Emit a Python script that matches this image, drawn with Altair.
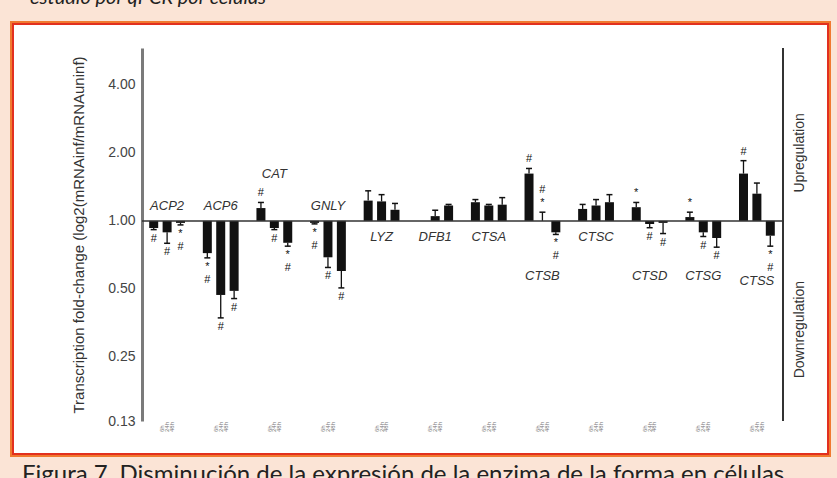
import altair as alt
import pandas as pd

# ---------------- data ----------------
genes = ["ACP2", "ACP6", "CAT", "GNLY", "LYZ", "DFB1", "CTSA", "CTSB", "CTSC", "CTSD", "CTSG", "CTSS"]
times = ["6h", "24h", "48h"]

fc_6h = [0.93, 0.72, 1.14, 0.98, 1.23, 1.00, 1.21, 1.62, 1.13, 1.15, 1.04, 1.62]
fc_24h = [0.89, 0.47, 0.93, 0.69, 1.22, 1.05, 1.17, 1.00, 1.17, 0.97, 0.89, 1.32]
fc_48h = [0.98, 0.49, 0.80, 0.60, 1.12, 1.17, 1.18, 0.89, 1.21, 0.98, 0.84, 0.86]

err_6h = [0.915, 0.686, 1.207, 0.97, 1.359, 1.00, 1.243, 1.707, 1.183, 1.207, 1.093, 1.848]
err_24h = [0.796, 0.372, 0.915, 0.622, 1.307, 1.115, 1.183, 1.093, 1.243, 0.933, 0.853, 1.471]
err_48h = [0.96, 0.453, 0.773, 0.505, 1.195, 1.183, 1.268, 0.871, 1.307, 0.879, 0.765, 0.773]

sig_6h = ["#", "*#", "#", "*#", "", "", "", "#", "", "*", "*", "#"]
sig_24h = ["#", "#", "#", "#", "", "", "", "*#", "", "#", "#", ""]
sig_48h = ["*#", "#", "*#", "#", "", "", "", "*#", "", "#", "#", "*#"]

# fold-change level at which each gene name is written
gene_label_level = [1.16, 1.16, 1.61, 1.16, 0.845, 0.845, 0.845, 0.57, 0.85, 0.57, 0.57, 0.54]

y_ticks = [0.13, 0.25, 0.5, 1, 2, 4]
y_title = "Transcription fold-change (log2(mRNAinf/mRNAuninf)"
top_caption = "estudio por qPCR por células"
bottom_caption = "Figura 7. Disminución de la expresión de la enzima de la forma en células"

# ---------------- tables ----------------
fcs = [fc_6h, fc_24h, fc_48h]
errs = [err_6h, err_24h, err_48h]
sigs = [sig_6h, sig_24h, sig_48h]
rows, ann = [], []
for g, gene in enumerate(genes):
    for t, tm in enumerate(times):
        v, e, s = fcs[t][g], errs[t][g], sigs[t][g]
        pos = g * 4 + t + 0.5
        rows.append(dict(gene=gene, time=tm, gi=g, ti=t, pos=pos, value=v, err=e))
        for k, ch in enumerate(s):
            ann.append(dict(pos=pos, err=e, ch=ch, k=k, up=v >= 1))
df = pd.DataFrame(rows)
adf = pd.DataFrame(ann)
gdf = pd.DataFrame(dict(gene=genes, gi=list(range(len(genes))), level=gene_label_level))
one = pd.DataFrame({"k": [0]})

W, H = 640, 373
PL, PT = 142, 48
PR, PB = 837 - PL - W, 478 - PT - H

FONT = "Liberation Sans"
xscale = alt.Scale(domain=[0, 47], nice=False, zero=False)
yscale = alt.Scale(type="log", domain=[0.13, 5.83], nice=False)
yaxis = alt.Axis(values=y_ticks, format=".2f", grid=False, ticks=False,
                 domainColor="#7a7a7a", domainWidth=3, labelFontSize=14,
                 labelColor="#444444", labelFont=FONT, labelPadding=7,
                 labelOverlap=False, title=y_title, titleFontSize=15,
                 titleFontWeight="normal", titleColor="#333333", titleFont=FONT,
                 titlePadding=21)


def X(f):
    return alt.X(f, type="quantitative", scale=xscale, axis=None)


def Y(f):
    return alt.Y(f, type="quantitative", scale=yscale, axis=yaxis)


def px_x(a):
    return alt.value(a - PL)


def px_y(a):
    return alt.value(a - PT)


base = alt.Chart(df)

bars = base.mark_bar(size=9, color="#111111").encode(x=X("pos"), y=Y("value"), y2=alt.datum(1))
stems = base.mark_rule(color="#111111", strokeWidth=1.3).encode(x=X("pos"), y=Y("value"), y2="err")
caps = base.transform_filter("datum.err != datum.value").mark_point(
    shape="M-1,0L1,0", size=36, filled=False, color="#111111", strokeWidth=1.5, opacity=1
).encode(x=X("pos"), y=Y("err"))

baseline = alt.Chart(one).mark_rule(color="#333333", strokeWidth=1.5).encode(y=alt.datum(1))
right_line = alt.Chart(one).mark_rule(color="#333333", strokeWidth=2).encode(
    x=alt.value(W + 1), y=alt.value(0), y2=alt.value(H))

ann_layers = []
for up in (True, False):
    for k in (0, 1):
        dy = (-1 if up else 1) * (9 if k == 0 else 22)
        ann_layers.append(
            alt.Chart(adf).transform_filter(
                f"datum.up == {'true' if up else 'false'} && datum.k == {k}"
            ).mark_text(fontSize=11, font=FONT, color="#111111", dy=dy, baseline="middle").encode(
                x=X("pos"), y=Y("err"), text="ch:N")
        )

gene_labels = alt.Chart(gdf).transform_calculate(cx="datum.gi*4 + 1.5").mark_text(
    fontSize=13, font=FONT, fontStyle="italic", color="#333333", baseline="middle"
).encode(x=X("cx"), y=Y("level"), text="gene:N")

time_labels = base.transform_calculate(lx="datum.gi*4 + 1.5 + (datum.ti - 1)*0.36").mark_text(
    fontSize=6, font=FONT, color="#777777", angle=270, align="left", baseline="middle"
).encode(x=X("lx"), y=alt.value(H + 11), text="time:N")

up_text = alt.Chart(one).mark_text(fontSize=14, font=FONT, color="#333333", angle=270,
                                   baseline="middle").encode(
    x=alt.value(W + 18), y=alt.datum(2.0), text=alt.value("Upregulation"))
down_text = alt.Chart(one).mark_text(fontSize=14, font=FONT, color="#333333", angle=270,
                                     baseline="middle").encode(
    x=alt.value(W + 18), y=alt.datum(0.33), text=alt.value("Downregulation"))

PEACH = "#fbe4d6"


def rect(x1, x2, y1, y2, **kw):
    return alt.Chart(one).mark_rect(**kw).encode(x=px_x(x1), x2=px_x(x2), y=px_y(y1), y2=px_y(y2))


strips = [
    rect(0, 10, 0, 478, fill=PEACH),
    rect(831, 837, 0, 478, fill=PEACH),
    rect(0, 837, 0, 21, fill=PEACH),
    rect(0, 837, 457, 478, fill=PEACH),
]
borders = [
    rect(11, 830, 22, 456, fill=None, filled=False, stroke="#f07a30", strokeWidth=2),
    rect(13, 828, 24, 454, fill=None, filled=False, stroke="#e2301f", strokeWidth=2),
]
cap_top = alt.Chart(one).mark_text(fontSize=20, font="Lato", fontStyle="italic", color="#222222",
                                   align="left", baseline="alphabetic").encode(
    x=px_x(30), y=px_y(4), text=alt.value(top_caption))
cap_bot = alt.Chart(one).mark_text(fontSize=24, font="Lato", color="#222222",
                                   align="left", baseline="alphabetic").encode(
    x=px_x(22), y=px_y(482), text=alt.value(bottom_caption))

chart = alt.layer(
    bars, stems, caps, baseline, right_line, *ann_layers, gene_labels, time_labels,
    up_text, down_text, *strips, *borders, cap_top, cap_bot
).properties(
    width=W, height=H, background="white",
    padding={"left": PL, "top": PT, "right": PR, "bottom": PB},
    autosize=alt.AutoSizeParams(type="none"),
).configure_view(stroke=None)

chart.save("out.html", embed_options={"renderer": "svg", "actions": False})
